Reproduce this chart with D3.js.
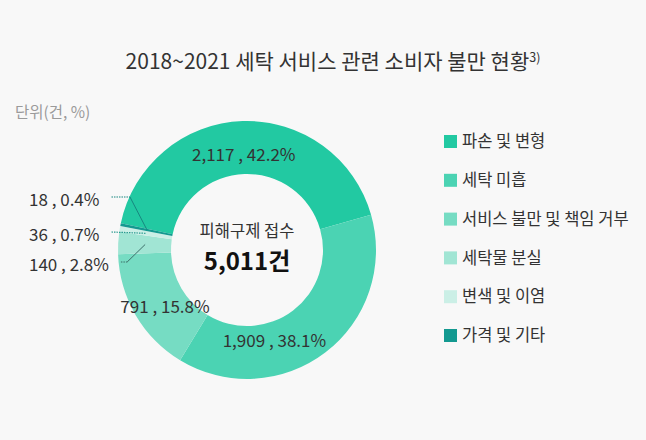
<!DOCTYPE html>
<html>
<head>
<meta charset="utf-8">
<script src="https://cdn.jsdelivr.net/npm/d3@7"></script>
<style>
  html, body { margin: 0; padding: 0; background: #f8f8f8; }
  svg { display: block; font-family: "Noto Sans CJK KR", "Noto Sans", sans-serif; }
</style>
</head>
<body>
<svg id="donut" width="646" height="440"></svg>
<script>
// data
var categories = ["파손 및 변형", "세탁 미흡", "서비스 불만 및 책임 거부", "세탁물 분실", "변색 및 이염", "가격 및 기타"]
var counts = [2117, 1909, 791, 140, 36, 18]
var percents = [42.2, 38.1, 15.8, 2.8, 0.7, 0.4]
var colors = ["#22c9a2", "#4bd3b3", "#76dcc3", "#a1e5d4", "#cbefe6", "#139990"]
var totalLabel = "5,011건"

var svg = d3.select("#donut")
var width = +svg.attr("width")
var height = +svg.attr("height")

var cx = 247, cy = 250
var outerR = 129, innerR = 76

var data = categories.map((c, i) => ({ name: c, count: counts[i], pct: percents[i], color: colors[i] }))
var fmt = d3.format(",")

// title
var title = svg.append("text")
    .attr("x", 333)
    .attr("y", 69)
    .attr("text-anchor", "middle")
    .attr("fill", "#333")
    .attr("font-size", "21px")
title.append("tspan").text("2018~2021 세탁 서비스 관련 소비자 불만 현황")
title.append("tspan").attr("font-size", "12.5px").attr("dy", "-7").text("3)")

svg.append("text")
    .attr("x", 15)
    .attr("y", 118)
    .attr("fill", "#9a9a9a")
    .attr("font-size", "15.5px")
    .text("단위(건, %)")

// donut
var startA = -78 * Math.PI / 180
var pie = d3.pie().value(d => d.count).sort(null).startAngle(startA).endAngle(startA + 2 * Math.PI)
var arcs = pie(data)
var arc = d3.arc().innerRadius(innerR).outerRadius(outerR)

var g = svg.append("g").attr("transform", "translate(" + cx + "," + cy + ")")

g.selectAll("path")
    .data(arcs)
    .enter().append("path")
    .attr("d", arc)
    .attr("fill", d => d.data.color)

// labels inside the ring (position along slice: fraction of its angle)
var ringPos = [0.5, 0.65, 0.42]
var ringR = [95, 95, 100]
g.append("g")
    .selectAll("text")
    .data(arcs.slice(0, 3))
    .enter().append("text")
    .attr("x", (d, i) => ringR[i] * Math.sin(d.startAngle + (d.endAngle - d.startAngle) * ringPos[i]))
    .attr("y", (d, i) => -ringR[i] * Math.cos(d.startAngle + (d.endAngle - d.startAngle) * ringPos[i]))
    .attr("dy", "0.35em")
    .attr("text-anchor", "middle")
    .attr("fill", "#333")
    .attr("font-size", "17px")
    .text(d => fmt(d.data.count) + " , " + d.data.pct + "%")

// small slices: labels on the left with leader lines
var small = arcs.slice(3)
var leftY = [265, 235, 200]      // text centre for 140, 36, 18
var elbowDx = [18, 0, 17]
var lineColor = ["#3d6e69", "#2a9b90", "#17877f"]
var pointR = 102

small.forEach(function (d, i) {
    var a = (d.startAngle + d.endAngle) / 2
    var px = cx + pointR * Math.sin(a)
    var py = cy - pointR * Math.cos(a)
    var ly = leftY[i] - 3

    var t = svg.append("text")
        .attr("x", 29)
        .attr("y", leftY[i])
        .attr("dy", "0.35em")
        .attr("fill", "#333")
        .attr("font-size", "17px")
        .text(fmt(d.data.count) + " , " + d.data.pct + "%")
    var textEnd = 29 + t.node().getComputedTextLength()

    var ex = elbowDx[i] ? px - elbowDx[i] : px
    if (elbowDx[i]) {
        svg.append("line")
            .attr("x1", px).attr("y1", py)
            .attr("x2", ex).attr("y2", ly)
            .attr("stroke", lineColor[i])
            .attr("stroke-width", 1)
    }
    svg.append("line")
        .attr("x1", textEnd + 12).attr("y1", ly)
        .attr("x2", ex).attr("y2", elbowDx[i] ? ly : py)
        .attr("stroke", lineColor[i])
        .attr("stroke-width", 1.2)
        .attr("stroke-dasharray", "1.5,1")
})

// centre text
g.append("text")
    .attr("y", -13)
    .attr("text-anchor", "middle")
    .attr("fill", "#333")
    .attr("font-size", "16.5px")
    .text("피해구제 접수")

g.append("text")
    .attr("y", 20)
    .attr("text-anchor", "middle")
    .attr("fill", "#111")
    .attr("font-size", "24px")
    .attr("font-weight", "bold")
    .text(totalLabel)

// legend
var legend = svg.append("g")
    .attr("class", "legend")
    .attr("transform", "translate(444,135)")

legend.selectAll("rect")
    .data(data)
    .enter().append("rect")
    .attr("x", 0)
    .attr("y", (d, i) => i * 38.8)
    .attr("width", 13)
    .attr("height", 13)
    .attr("fill", d => d.color)

legend.selectAll("text")
    .data(data)
    .enter().append("text")
    .attr("x", 18)
    .attr("y", (d, i) => i * 38.8 + 6.5)
    .attr("dy", "0.35em")
    .attr("fill", "#333")
    .attr("font-size", "16.5px")
    .text(d => d.name)
</script>
</body>
</html>
